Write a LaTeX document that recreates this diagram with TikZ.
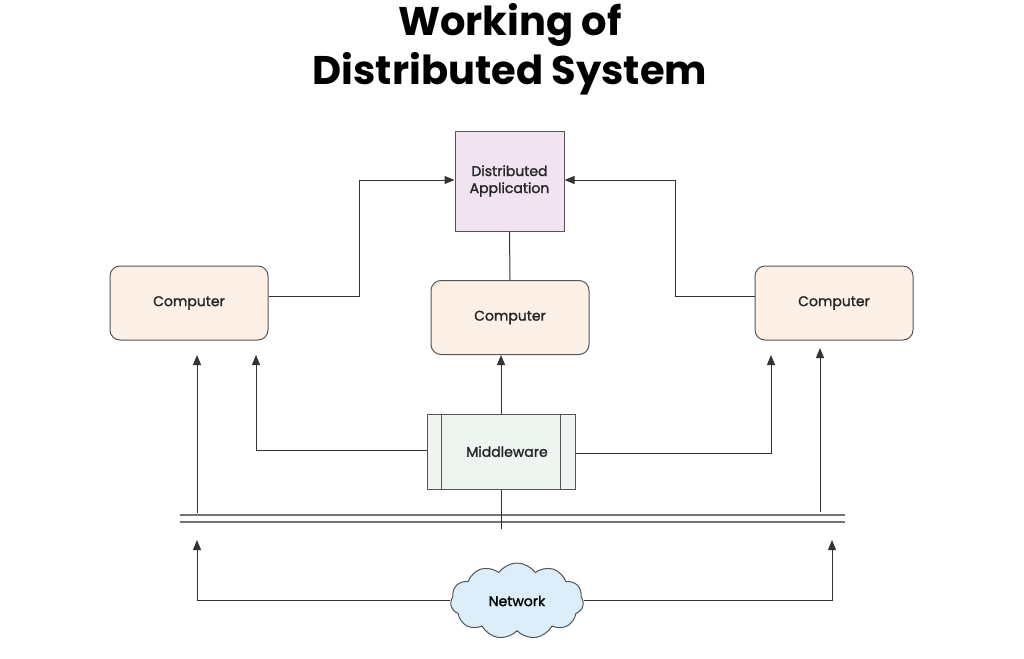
\documentclass[tikz,border=0pt]{standalone}
\usepackage{fontspec}
\setmainfont{Poppins}
\newfontfamily\lblfont{Poppins}[FakeBold=1.6]
\usetikzlibrary{shapes.symbols,arrows.meta}
\definecolor{appfill}{HTML}{F1E4F0}
\definecolor{compfill}{HTML}{FDF1E7}
\definecolor{mwfill}{HTML}{EEF4EF}
\definecolor{netfill}{HTML}{DCEEFA}
\definecolor{edge}{HTML}{555555}
\tikzset{
  box/.style={draw=edge, line width=1pt, font=\lblfont\fontsize{14}{17}\selectfont, text=black!85},
  comp/.style={box, fill=compfill, rounded corners=10pt, minimum width=158pt, minimum height=74pt},
  conn/.style={draw=black!80, line width=1pt},
  arr/.style={conn, -{Triangle[length=10pt,width=8pt]}},
  bus/.style={draw=black!55, line width=1.8pt}
}
\begin{document}
\begin{tikzpicture}[x=1pt,y=-1pt]
\useasboundingbox (0,0) rectangle (1024,658);
\node[font=\fontsize{40}{49}\selectfont\bfseries, align=center] (title) at (510,49) {Working of\\Distributed System};
\node[box, fill=appfill, minimum width=109pt, minimum height=100pt, align=center] (app) at (509.5,181) {Distributed\\Application};
\node[comp] (cl) at (189,303) {Computer};
\node[comp] (cm) at (510,317.5) {Computer};
\node[comp] (cr) at (834,303) {Computer};
\node[box, fill=mwfill, minimum width=148pt, minimum height=75pt] (mw) at (501,451.5) {\hspace{12pt}Middleware};
\draw[edge, line width=1pt] ([xshift=15pt]mw.north west) -- ([xshift=15pt]mw.south west)
  ([xshift=-15pt]mw.north east) -- ([xshift=-15pt]mw.south east);
\node[cloud, cloud puffs=11, cloud puff arc=110, aspect=1.8, draw=edge, line width=1pt, fill=netfill, minimum width=133pt, minimum height=76pt, font=\lblfont\fontsize{14}{17}\selectfont] (net) at (517,601) {Network};
% bus
\coordinate (busL) at (180,522);
\coordinate (busR) at (845,522);
\draw[bus] (busL) -- (busR);
\draw[bus] ([yshift=7pt]busL) -- ([yshift=7pt]busR);
% connectors
\draw[arr] (cl.east |- 0,296) -| (359,180) -- (app.west |- 0,180);
\draw[arr] (cr.west |- 0,296) -| (675,180) -- (app.east |- 0,180);
\draw[conn] (app.south) -- (cm.north);
\draw[arr] (mw.north) -- (cm.south -| mw.north);
\draw[arr] (mw.west |- 0,450) -| (256,355);
\draw[arr] (mw.east |- 0,453) -| (771,355);
\draw[arr] (197,513) -- (197,355);
\draw[arr] (820,512) -- (820,348);
\draw[conn] (mw.south) -- (501,529);
\draw[arr] (net.west |- 0,600) -| (197,540);
\draw[arr] (net.east |- 0,600) -| (832,540);
\end{tikzpicture}
\end{document}
